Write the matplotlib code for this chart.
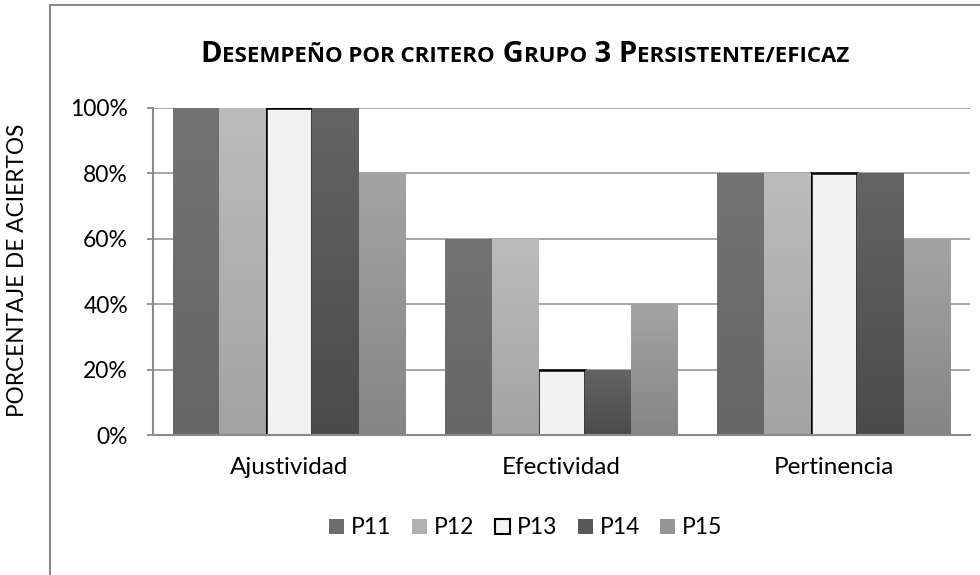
import matplotlib
matplotlib.use("Agg")
import matplotlib.pyplot as plt
import numpy as np
from matplotlib.patches import Rectangle, Patch
from matplotlib.offsetbox import TextArea, HPacker, AnnotationBbox
from matplotlib.colors import LinearSegmentedColormap

plt.rcParams['font.family'] = ['Lato', 'DejaVu Sans']

categories = ["Ajustividad", "Efectividad", "Pertinencia"]
series_names = ["P11", "P12", "P13", "P14", "P15"]
P11 = [100, 60, 80]
P12 = [100, 60, 80]
P13 = [100, 20, 80]
P14 = [100, 20, 80]
P15 = [80, 40, 60]
series_values = [P11, P12, P13, P14, P15]
yticks = [0, 20, 40, 60, 80, 100]
ytick_labels = ["0%", "20%", "40%", "60%", "80%", "100%"]

top_colors = ["#737373", "#bcbcbc", "#f2f2f2", "#646464", "#a4a4a4"]
bot_colors = ["#666666", "#a3a3a3", "#f2f2f2", "#4b4b4b", "#858585"]
edge_colors = ["none", "none", "black", "none", "none"]

fig = plt.figure(figsize=(9.8, 5.75), dpi=100)
fig.patch.set_facecolor("white")

# outer chart frame (cropped at right/bottom)
frame = Rectangle((50 / 980, -0.1), 1.2, 1 - 5 / 575 + 0.1, transform=fig.transFigure,
                  fill=False, edgecolor="#8a8a8a", linewidth=1.5, zorder=0)
fig.add_artist(frame)

ax = fig.add_axes([153 / 980, 1 - 435 / 575, (970 - 153) / 980, (435 - 108) / 575])
ax.set_facecolor("none")

x = np.arange(len(categories))
n = len(series_names)
w = 0.171
for i, (name, vals) in enumerate(zip(series_names, series_values)):
    offs = (i - (n - 1) / 2) * w
    bars = ax.bar(x + offs, vals, width=w, color=bot_colors[i],
                  edgecolor=edge_colors[i], linewidth=1.8 if edge_colors[i] != "none" else 0,
                  zorder=3)
    if top_colors[i] != bot_colors[i]:
        cmap = LinearSegmentedColormap.from_list("g%d" % i, [bot_colors[i], top_colors[i]])
        grad = np.linspace(0, 1, 256).reshape(-1, 1)
        for b in bars:
            bx, by = b.get_x(), b.get_y()
            bw, bh = b.get_width(), b.get_height()
            im = ax.imshow(grad, cmap=cmap, origin="lower", aspect="auto",
                           extent=[bx, bx + bw, by, by + bh], zorder=3.5)
            im.set_clip_path(b)

ax.set_xlim(-0.5, len(categories) - 0.5)
ax.set_ylim(0, 100)
ax.set_yticks(yticks)
ax.set_yticklabels(ytick_labels, fontsize=16.5)
ax.set_xticks(x)
ax.set_xticklabels(categories, fontsize=17.5)
ax.tick_params(axis="y", length=4, color="#8a8a8a", width=1.3, pad=14)
ax.tick_params(axis="x", length=0, pad=16)
ax.yaxis.grid(True, color="#a6a6a6", linewidth=1.4, zorder=1)
ax.set_axisbelow(True)
for s in ["top", "right"]:
    ax.spines[s].set_visible(False)
for s in ["left", "bottom"]:
    ax.spines[s].set_color("#8a8a8a")
    ax.spines[s].set_linewidth(1.5)
    ax.spines[s].set_zorder(4)

fig.text(18 / 980, 1 - 270 / 575, "PORCENTAJE DE ACIERTOS", rotation=90,
         ha="center", va="center", fontsize=16.3)

# title with small caps emulation
big = dict(fontsize=21, fontweight="bold", color="black", family=["Open Sans", "DejaVu Sans"])
small = dict(fontsize=16, fontweight="bold", color="black", family=["Open Sans", "DejaVu Sans"])
pieces = [("D", big), ("ESEMPEÑO POR CRITERO", small), (" G", big), ("RUPO", small),
          (" 3 P", big), ("ERSISTENTE/EFICAZ", small)]
children = [TextArea(t, textprops=p) for t, p in pieces]
pack = HPacker(children=children, align="baseline", pad=0, sep=0)
ab = AnnotationBbox(pack, (525 / 980, 1 - 55 / 575), xycoords="figure fraction",
                    frameon=False, box_alignment=(0.5, 0.5))
fig.add_artist(ab)

handles = [Patch(facecolor=((np.array(matplotlib.colors.to_rgb(top_colors[i])) +
                              np.array(matplotlib.colors.to_rgb(bot_colors[i]))) / 2),
                 edgecolor=edge_colors[i] if edge_colors[i] != "none" else "none",
                 linewidth=1.5) for i in range(n)]
leg = fig.legend(handles, series_names, loc="center", bbox_to_anchor=(526 / 980, 1 - 528 / 575),
                 ncol=n, frameon=False, fontsize=16.5, handlelength=0.65, handleheight=0.65,
                 handletextpad=0.3, columnspacing=0.9)

fig.savefig("out.png", dpi=100, facecolor="white")
